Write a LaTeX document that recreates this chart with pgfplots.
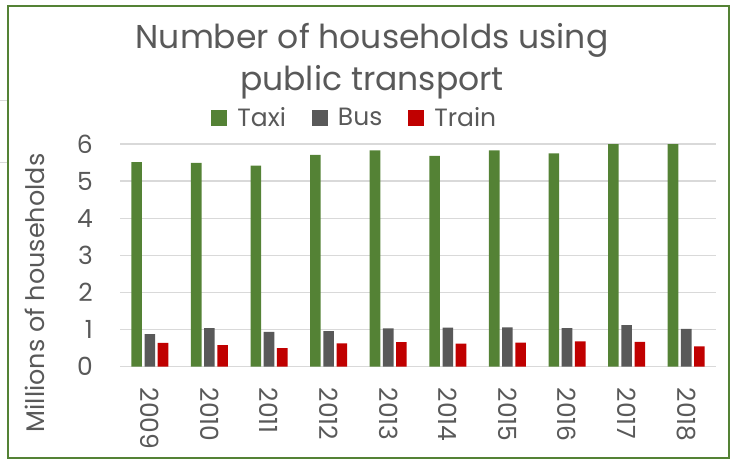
\documentclass[border=0pt]{standalone}
\usepackage{pgfplots}
\pgfplotsset{compat=1.18}
\usepackage{fontspec}
\setmainfont{Poppins}
\definecolor{taxi}{HTML}{548235}
\definecolor{bus}{HTML}{595959}
\definecolor{train}{HTML}{C00000}
\definecolor{txt}{HTML}{595959}
\definecolor{gridc}{HTML}{D9D9D9}

\begin{document}
\begin{tikzpicture}[x=1pt,y=1pt]
\useasboundingbox (0,0) rectangle (731,-459);
% spreadsheet cell lines left of the chart
\draw[gridc, line width=0.8pt] (0,-100) -- (8,-100) (0,-162) -- (8,-162);
\begin{axis}[
  at={(120pt,-366.7pt)}, anchor=south west,
  scale only axis, width=596pt, height=222.7pt,
  ybar=2.6pt, bar width=10.6pt,
  xmin=-0.5, xmax=9.5, ymin=0, ymax=6,
  xtick=data, xticklabels={2009,2010,2011,2012,2013,2014,2015,2016,2017,2018},
  ytick={0,1,2,3,4,5,6},
  ymajorgrids, grid style={gridc, line width=1.3pt},
  axis line style={draw=none},
  major tick length=0pt,
  tick label style={font=\fontsize{25}{25}\selectfont, text=txt},
  /pgf/number format/assume math mode=true,
  xticklabel style={rotate=-90, anchor=west, inner sep=0pt},
  xticklabel shift=21pt,
  yticklabel style={anchor=east, inner sep=0pt},
  yticklabel shift=27pt,
  legend style={at={(0.394,1.117)}, anchor=center, draw=none, fill=none,
    legend columns=-1, font=\fontsize{25}{25}\selectfont, text=txt,
    /tikz/every odd column/.append style={column sep=8pt},
    /tikz/every even column/.append style={column sep=24pt},
    legend cell align=left, inner sep=0pt},
  legend image code/.code={\draw[#1, draw=none] (0pt,-8pt) rectangle (16pt,8pt);},
  every axis plot/.append style={draw=none},
]
\addplot[fill=taxi] coordinates {
  (0,5.51) (1,5.49) (2,5.42) (3,5.71) (4,5.83) (5,5.68) (6,5.83) (7,5.75) (8,6.00) (9,6.00)
};
\addplot[fill=bus] coordinates {
  (0,0.88) (1,1.04) (2,0.94) (3,0.96) (4,1.03) (5,1.05) (6,1.06) (7,1.04) (8,1.12) (9,1.02)
};
\addplot[fill=train] coordinates {
  (0,0.64) (1,0.58) (2,0.50) (3,0.63) (4,0.66) (5,0.62) (6,0.65) (7,0.68) (8,0.67) (9,0.55)
};
\legend{Taxi,Bus,Train}
\end{axis}
\node[anchor=base, text=txt, font=\fontsize{33}{33}\selectfont] at (372,-48) {Number of households using};
\node[anchor=base, text=txt, font=\fontsize{33}{33}\selectfont] at (372,-90) {public transport};
\node[rotate=90, text=txt, font=\fontsize{25.5}{25.5}\selectfont] at (35,-293) {Millions of households};
\draw[taxi, line width=1.8pt] (8,-6) rectangle (729,-458);
\end{tikzpicture}
\end{document}
